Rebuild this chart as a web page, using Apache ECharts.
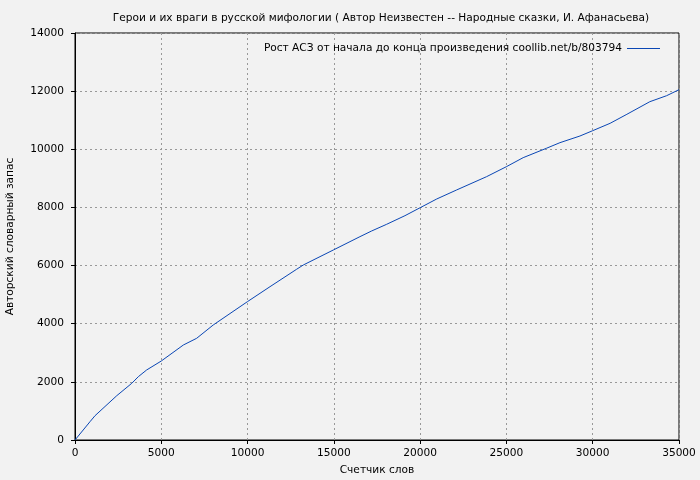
<!DOCTYPE html>
<html>
<head>
<meta charset="utf-8">
<script src="https://cdn.jsdelivr.net/npm/echarts@6/dist/echarts.min.js"></script>
<style>
html,body{margin:0;padding:0;background:#f2f2f2;}
#c{width:700px;height:480px;}
</style>
</head>
<body>
<div id="c"></div>
<script>
const titleText = 'Герои и их враги в русской мифологии ( Автор Неизвестен -- Народные сказки, И. Афанасьева)';
const seriesName = 'Рост АСЗ от начала до конца произведения coollib.net/b/803794';
const xAxisName = 'Счетчик слов';
const yAxisName = 'Авторский словарный запас';
const wordCount = [0, 870, 1160, 2420, 3290, 3670, 4150, 5000, 6280, 7050, 8010, 9990, 11300, 12840, 13230, 14970, 16510, 17190, 18060, 19120, 20000, 20960, 22110, 23850, 25000, 25970, 27320, 28100, 29260, 30000, 31010, 31980, 33310, 34280, 35000];
const vocab = [0, 630, 836, 1524, 1950, 2178, 2408, 2717, 3268, 3498, 3956, 4758, 5274, 5872, 6020, 6536, 6994, 7190, 7420, 7716, 7991, 8290, 8600, 9058, 9402, 9712, 10035, 10227, 10457, 10640, 10894, 11204, 11637, 11843, 12050];
const data = wordCount.map((x, i) => [x, vocab[i]]);
const font = 'DejaVu Sans';
const fs = 10.6;
const chart = echarts.init(document.getElementById('c'));
chart.setOption({
  backgroundColor: '#f2f2f2',
  animation: false,
  textStyle: {fontFamily: font},
  title: {
    text: titleText, left: 376, textAlign: 'center', top: 8,
    textStyle: {fontFamily: font, fontSize: fs, fontWeight: 'normal', color: '#000'}
  },
  legend: {
    right: 35, top: 38, align: 'right', itemGap: 0,
    itemWidth: 33, itemHeight: 1, icon: 'rect',
    textStyle: {fontFamily: font, fontSize: fs, color: '#000', padding: [0, 0, 0, 0]},
    data: [{name: seriesName, icon: 'rect'}]
  },
  grid: {left: 75, right: 21, top: 33, bottom: 40, outerBoundsMode: 'none', containLabel: false, show: true, borderColor: '#000', borderWidth: 1, backgroundColor: 'transparent'},
  xAxis: {
    type: 'value', min: 0, max: 35000, interval: 5000,
    name: xAxisName, nameLocation: 'middle', nameGap: 25,
    nameTextStyle: {fontFamily: font, fontSize: fs, color: '#000'},
    axisLine: {show: true, lineStyle: {color: '#000', width: 1}},
    axisTick: {show: true, length: 4, lineStyle: {color: '#000'}},
    axisLabel: {fontFamily: font, fontSize: fs, color: '#000', margin: 8, formatter: v => String(v)},
    splitLine: {show: true, lineStyle: {color: '#999', type: [2, 3], width: 1}}
  },
  yAxis: {
    type: 'value', min: 0, max: 14000, interval: 2000,
    name: yAxisName, nameLocation: 'middle', nameGap: 59, nameRotate: 90,
    nameTextStyle: {fontFamily: font, fontSize: fs, color: '#000'},
    axisLine: {show: true, lineStyle: {color: '#000', width: 1}},
    axisTick: {show: true, length: 4, lineStyle: {color: '#000'}},
    axisLabel: {fontFamily: font, fontSize: fs, color: '#000', margin: 11, formatter: v => String(v)},
    splitLine: {show: true, lineStyle: {color: '#999', type: [2, 3], width: 1}}
  },
  series: [{
    name: seriesName, type: 'line', data: data, showSymbol: false, symbol: 'none',
    lineStyle: {color: '#0a46b4', width: 1}, itemStyle: {color: '#0a46b4'}
  }]
});
</script>
</body>
</html>
